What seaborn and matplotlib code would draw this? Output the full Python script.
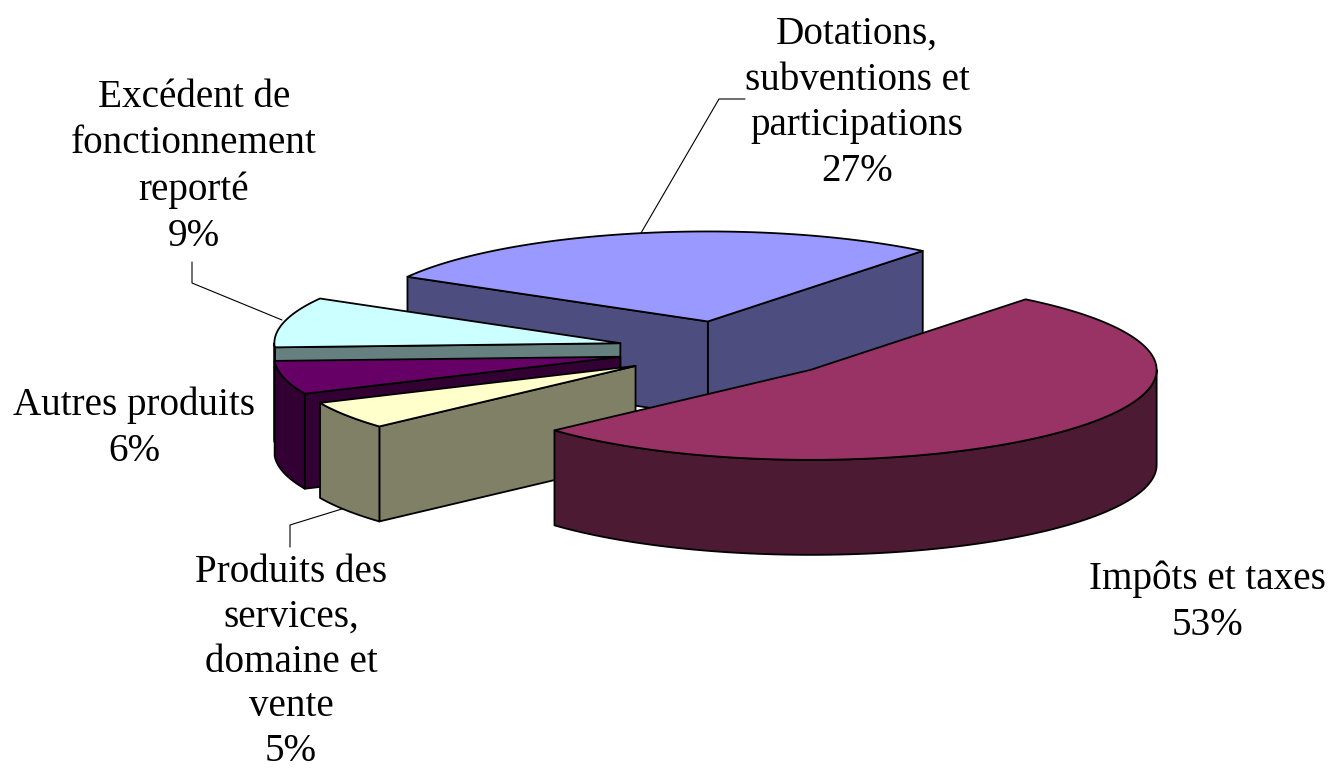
import numpy as np
import matplotlib
matplotlib.use("Agg")
import matplotlib.pyplot as plt
import seaborn as sns

# --- data ---
categories = ["Impôts et taxes",
              "Produits des\nservices,\ndomaine et\nvente",
              "Autres produits",
              "Excédent de\nfonctionnement\nreporté",
              "Dotations,\nsubventions et\nparticipations"]
values = [52.6, 5, 6, 9, 27.4]
top_colors = ["#993366", "#FFFFCC", "#660066", "#CCFFFF", "#9999FF"]
side_colors = ["#4D1A33", "#808066", "#330033", "#668080", "#4D4D80"]

# --- layout of the projected pie ---
W, H = 1331, 772
CX, CY = 729, 350
A, B, DEPTH = 346, 90, 95
EXPLODE = 0.323
START = 51.6
EDGE = "black"
LW = 1.3
label_pos = [(1207, 602), (291, 662), (134, 428), (194, 167), (857, 103)]
label_spacing = [1.32, 1.27, 1.32, 1.32, 1.32]
leaders = [None,
           [(345, 508), (290, 525), (290, 547)],
           None,
           [(282, 320), (192, 283), (192, 262)],
           [(641, 233), (719, 99), (745, 99)]]

sns.set_theme(style="white")
plt.rcParams["font.family"] = ["Liberation Serif", "DejaVu Serif"]
fig, ax = plt.subplots(figsize=(W / 100, H / 100), dpi=100)
ax.set_position([0, 0, 1, 1])
ax.set_xlim(0, W)
ax.set_ylim(H, 0)
ax.axis("off")
palette_top = sns.color_palette(top_colors)
palette_side = sns.color_palette(side_colors)


def arc(c, t0, t1, dz=0.0):
    t = np.radians(np.linspace(t0, t1, 160))
    return np.c_[c[0] + A * np.cos(t), c[1] - B * np.sin(t) + dz]


def poly(pts, color, z):
    ax.fill(pts[:, 0], pts[:, 1], facecolor=color, edgecolor=EDGE, lw=LW,
            joinstyle="round", zorder=z)


fractions = np.array(values, dtype=float) / sum(values) * 360
hi_angles = START - np.r_[0, np.cumsum(fractions)[:-1]]
lo_angles = hi_angles - fractions

for line in leaders:
    if line is not None:
        p = np.array(line)
        ax.plot(p[:, 0], p[:, 1], color=EDGE, lw=0.8, zorder=1)

# back-to-front: the slices run clockwise, the first one is nearest the viewer
for order, i in enumerate(range(len(values) - 1, -1, -1)):
    lo, hi = lo_angles[i] % 360, lo_angles[i] % 360 + fractions[i]
    mid = np.radians((lo + hi) / 2)
    c = (CX + EXPLODE * A * np.cos(mid), CY - EXPLODE * B * np.sin(mid))
    z = 2 + order
    for ang, visible in ((lo, np.cos(np.radians(lo)) > 0),
                         (hi, np.cos(np.radians(hi)) < 0)):
        if visible:
            e = arc(c, ang, ang, 0)[0]
            face = np.array([c, e, e + (0, DEPTH), (c[0], c[1] + DEPTH)])
            poly(face, palette_side[i], z)
    w0, w1 = max(lo, 180), min(hi, 360)
    if w1 > w0:
        wall = np.r_[arc(c, w0, w1), arc(c, w1, w0, DEPTH)]
        poly(wall, palette_side[i], z)
    top = np.r_[[c], arc(c, lo, hi)]
    poly(top, palette_top[i], z)

for name, val, (x, y), ls in zip(categories, values, label_pos, label_spacing):
    ax.text(x, y, f"{name}\n{val:.0f}%", ha="center", va="center", fontsize=28.2,
            color="black", linespacing=ls, zorder=20)

fig.savefig("out.png", dpi=100, facecolor="white")
